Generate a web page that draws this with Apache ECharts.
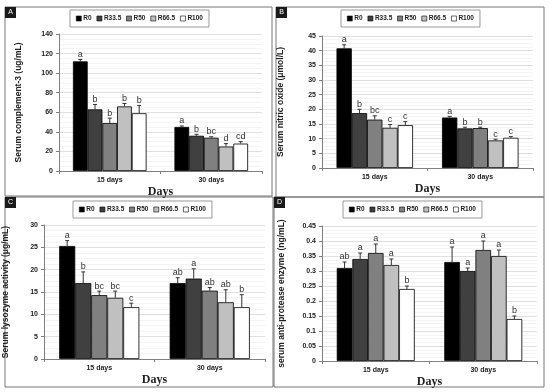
<!DOCTYPE html>
<html><head><meta charset="utf-8">
<script src="https://cdn.jsdelivr.net/npm/echarts@6/dist/echarts.min.js"></script>
<style>html,body{margin:0;padding:0;background:#fff}#c{width:550px;height:392px}</style>
</head><body><div id="c"></div>
<script>
const categories = ['15 days', '30 days'];
const groups = ['R0', 'R33.5', 'R50', 'R66.5', 'R100'];

// Panel A: serum complement-3 (by group: [15 days, 30 days])
const aMean = [[112, 45], [63, 36], [49, 34], [66, 25], [59, 28]];
const aErr = [[2, 1], [5, 1.5], [5, 1], [3, 3], [8, 2]];
const aLetters = [['a', 'a'], ['b', 'b'], ['b', 'bc'], ['b', 'd'], ['b', 'cd']];

// Panel B: serum nitric oxide
const bMean = [[40.8, 17.2], [18.7, 13.5], [16.5, 13.6], [13.7, 9.4], [14.6, 10.3]];
const bErr = [[1.2, 0.4], [1.3, 0.4], [1.3, 0.3], [1.1, 0.4], [1.2, 0.4]];
const bLetters = [['a', 'a'], ['b', 'b'], ['bc', 'b'], ['c', 'c'], ['c', 'c']];

// Panel C: serum lysozyme activity
const cMean = [[25.3, 17], [17, 18], [14.3, 15.3], [13.7, 12.7], [11.6, 11.6]];
const cErr = [[1.2, 1.2], [2.5, 2.2], [0.9, 0.7], [1.5, 2.8], [0.9, 2.8]];
const cLetters = [['a', 'ab'], ['b', 'a'], ['bc', 'ab'], ['bc', 'ab'], ['c', 'b']];

// Panel D: serum anti-protease enzyme
const dMean = [[0.31, 0.33], [0.34, 0.30], [0.36, 0.37], [0.32, 0.35], [0.24, 0.14]];
const dErr = [[0.02, 0.05], [0.02, 0.01], [0.03, 0.03], [0.02, 0.02], [0.01, 0.01]];
const dLetters = [['ab', 'a'], ['a', 'a'], ['a', 'a'], ['a', 'a'], ['b', 'b']];

const colors = ['#000000', '#404040', '#808080', '#c0c0c0', '#ffffff'];
const FONT = 'Liberation Sans';
const BAR_W = 0.145;

const panels = [
  {id: 'A', mean: aMean, err: aErr, letters: aLetters, max: 140, interval: 20,
   title: 'Serum complement-3 (ug/mL)', grid: {left: 59, top: 34, width: 203, height: 137}, nameGap: 36,
   legend: {left: 70, top: 10}, frame: [5, 7, 267, 189]},
  {id: 'B', mean: bMean, err: bErr, letters: bLetters, max: 45, interval: 5,
   title: 'Serum nitric oxide (\u03bcmol/L)', grid: {left: 322, top: 36, width: 211, height: 132}, nameGap: 37,
   legend: {left: 341, top: 10}, frame: [276, 7, 268, 190]},
  {id: 'C', mean: cMean, err: cErr, letters: cLetters, max: 30, interval: 5,
   title: 'Serum lysozyme activity (\u03bcg/mL)', grid: {left: 44, top: 225, width: 221, height: 134}, nameGap: 34,
   legend: {left: 73, top: 201}, frame: [5, 197, 268, 190]},
  {id: 'D', mean: dMean, err: dErr, letters: dLetters, max: 0.45, interval: 0.05,
   title: 'serum anti-protease enzyme (ng/mL)', grid: {left: 322, top: 226, width: 215, height: 135}, nameGap: 36,
   legend: {left: 343, top: 201}, frame: [274, 197, 270, 190]}
];

const option = {animation: false, backgroundColor: '#fff', grid: [], xAxis: [], yAxis: [], series: [], legend: [], graphic: []};

panels.forEach((p, pi) => {
  option.grid.push(Object.assign({containLabel: false}, p.grid));
  option.xAxis.push({
    type: 'category', gridIndex: pi, data: categories,
    name: 'Days', nameLocation: 'middle', nameGap: 15,
    nameTextStyle: {fontFamily: 'Liberation Serif', fontWeight: 'bold', fontSize: 12, color: '#222'},
    axisLine: {lineStyle: {color: '#808080', width: 1}},
    axisTick: {show: true, length: 3, lineStyle: {color: '#808080'}},
    axisLabel: {fontFamily: FONT, fontWeight: 'bold', fontSize: 7, color: '#222', margin: 6}
  });
  option.yAxis.push({
    type: 'value', gridIndex: pi, min: 0, max: p.max, interval: p.interval,
    name: p.title, nameLocation: 'middle', nameGap: p.nameGap,
    nameTextStyle: {fontFamily: FONT, fontWeight: 'bold', fontSize: 8.5, color: '#222'},
    axisLine: {show: true, lineStyle: {color: '#808080', width: 1}},
    axisTick: {show: true, length: 3, lineStyle: {color: '#808080'}},
    axisLabel: {fontFamily: FONT, fontWeight: 'bold', fontSize: 7, color: '#222', margin: 6},
    splitLine: {show: true, lineStyle: {color: '#d8d8d8', width: 0.8}},
    minorTick: {show: false, splitNumber: 4},
    minorSplitLine: {show: true, lineStyle: {color: '#ececec', width: 0.6}}
  });
  groups.forEach((g, gi) => {
    option.series.push({
      type: 'bar', name: g, xAxisIndex: pi, yAxisIndex: pi,
      data: p.mean[gi], barWidth: (BAR_W * 100) + '%', barGap: '0%',
      itemStyle: {color: colors[gi], borderColor: '#000', borderWidth: 0.8},
      emphasis: {disabled: true}
    });
  });
  const errData = [];
  const lett = [];
  groups.forEach((g, gi) => {
    categories.forEach((c, ci) => {
      errData.push([ci, gi, p.mean[gi][ci], p.err[gi][ci]]);
      lett.push(p.letters[gi][ci]);
    });
  });
  option.series.push({
    type: 'custom', xAxisIndex: pi, yAxisIndex: pi, z: 10,
    encode: {x: 0, y: 2}, data: errData, silent: true,
    renderItem: function (params, api) {
      const ci = api.value(0), gi = api.value(1), m = api.value(2), e = api.value(3);
      const band = api.size([1, 0])[0];
      const bw = band * BAR_W;
      const base = api.coord([ci, m]);
      const top = api.coord([ci, m + e]);
      const x = base[0] + (gi - 2) * bw;
      const cap = 2;
      return {type: 'group', children: [
        {type: 'line', shape: {x1: x, y1: base[1], x2: x, y2: top[1]}, style: {stroke: '#333', lineWidth: 1}},
        {type: 'line', shape: {x1: x - cap, y1: top[1], x2: x + cap, y2: top[1]}, style: {stroke: '#333', lineWidth: 1}},
        {type: 'text', style: {text: lett[params.dataIndex], x: x, y: top[1] - 0.5, textAlign: 'center', textVerticalAlign: 'bottom',
          font: '9px "' + FONT + '"', fill: '#333'}}
      ]};
    }
  });
  option.legend.push({
    left: p.legend.left, top: p.legend.top, data: groups, orient: 'horizontal',
    icon: 'rect', itemWidth: 5, itemHeight: 5, itemGap: 5,
    itemStyle: {borderWidth: 0.6},
    borderColor: '#999', borderWidth: 1, padding: [5, 6, 5, 6],
    textStyle: {fontFamily: FONT, fontWeight: 'bold', fontSize: 6.5, color: '#222', padding: [0, 0, 0, -3]},
    selectedMode: false
  });
  const f = p.frame;
  option.graphic.push({type: 'rect', shape: {x: f[0], y: f[1], width: f[2], height: f[3]}, style: {fill: 'none', stroke: '#777', lineWidth: 1}, z: 0, silent: true});
  option.graphic.push({type: 'rect', shape: {x: f[0], y: f[1], width: 11, height: 11}, style: {fill: '#1a1a1a'}, silent: true});
  option.graphic.push({type: 'text', x: f[0] + 5.5, y: f[1] + 5.5, style: {text: p.id, fill: '#fff', font: '7px "' + FONT + '"', textAlign: 'center', textVerticalAlign: 'middle'}, silent: true});
});

const chart = echarts.init(document.getElementById('c'), null, {renderer: 'canvas'});
chart.setOption(option);
</script></body></html>
